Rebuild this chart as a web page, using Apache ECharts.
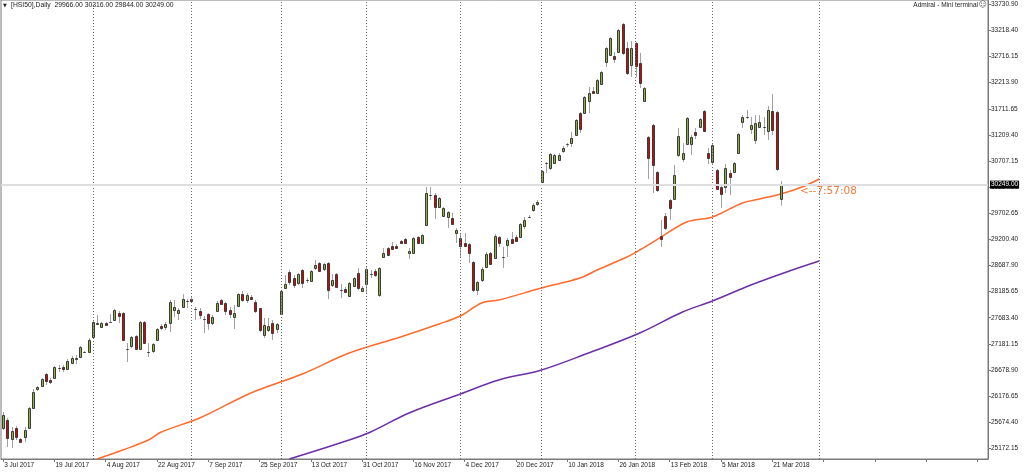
<!DOCTYPE html>
<html><head><meta charset="utf-8">
<script src="https://cdn.jsdelivr.net/npm/echarts@6/dist/echarts.min.js"></script>
<style>html,body{margin:0;padding:0;background:#fff}#c{width:1024px;height:472px}</style>
</head><body><div id="c"></div>
<script>
// ---- data ----
const tickLabels = ['3 Jul 2017','19 Jul 2017','4 Aug 2017','22 Aug 2017','7 Sep 2017','25 Sep 2017','13 Oct 2017','31 Oct 2017','16 Nov 2017','4 Dec 2017','20 Dec 2017','10 Jan 2018','26 Jan 2018','13 Feb 2018','5 Mar 2018','21 Mar 2018'];
const barsPerLabel = 12;
const slotCount = 231;
const openP = [25558,25712,25345,25558,25345,25384,25558,25943,26309,26367,
26598,26483,26521,26720,26733,26694,26810,26887,26926,27030,
27022,27312,27581,27505,27581,27600,27639,27774,27774,27085,
27138,27331,27080,27601,27025,27042,27254,27524,27505,27581,
27832,27774,27890,28010,28044,27855,27813,27665,27755,27581,
27813,28025,27967,27832,27697,27909,28140,28025,28083,27986,
27870,27350,27447,27581,27466,27755,28256,28564,28449,28352,
28603,28415,28391,28641,28738,28622,28738,28314,28526,28220,
28237,28102,28294,28545,28198,28333,28530,28584,28121,28853,
29027,29066,29066,29162,29200,28930,28930,29239,29124,29470,
30055,30049,29817,29644,29625,29606,29316,29220,29124,29104,
28757,28218,28410,28661,28930,28834,29239,28860,29085,29200,
29239,29239,29451,29630,29760,29875,30299,30670,30569,30666,
30724,30897,31035,31051,31206,31629,31629,31861,32054,32015,
32189,32613,32748,32728,32806,33345,32882,32555,32979,32593,
31861,31167,31398,30492,29258,29644,29953,29972,30820,30743,
31032,31032,31264,31360,31668,30858,30685,30531,30203,30203,
30473,30492,30858,31456,31555,31321,31109,31360,31365,31283,
31668,31649,29966];
const closeP = [25808,25365,25500,25384,25288,25519,25943,26251,26348,26502,
26463,26444,26733,26710,26694,26848,26906,26906,27119,27020,
27254,27601,27562,27581,27543,27605,27832,27717,27254,27075,
27312,27080,27601,27196,27020,27177,27466,27485,27562,27986,
27890,27832,28044,28000,28006,27850,27736,27655,27581,27697,
27967,27947,27813,27755,27774,28140,28025,28121,28044,27813,
27447,27543,27524,27389,27562,28198,28333,28372,28314,28526,
28352,28405,28584,28699,28584,28718,28218,28410,28275,28215,
28179,28352,28449,28256,28256,28622,28520,28506,28641,28930,
28892,29008,29027,29124,29124,28969,29220,29124,29278,30087,
30045,29817,29991,29798,29721,29490,29374,29066,29066,28930,
28218,28372,28622,28911,28718,29258,29124,28850,29181,29124,
29162,29490,29567,29620,29856,29914,30511,30660,30839,30820,
30820,30955,31030,31148,31495,31321,31937,32015,32015,32266,
32420,32882,33075,32670,33230,32786,32400,32882,32536,32208,
32111,30763,30627,30145,29200,29413,29798,30435,31186,30858,
31533,31167,31206,31514,31283,30762,31013,30165,30068,30569,
30396,30666,31225,31553,31550,31398,31437,31456,31355,31687,
31302,30550,30249];
const lowP = [25519,25191,25172,25326,25268,25288,25538,25924,26270,26348,
26386,26405,26502,26637,26637,26675,26790,26790,26926,27003,
27003,27292,27543,27485,27524,27581,27620,27581,27234,26829,
27100,27061,27061,27177,26926,27003,27234,27447,27447,27408,
27697,27639,27870,27870,27986,27639,27659,27389,27447,27543,
27793,27928,27736,27678,27466,27890,27986,27967,28025,27774,
27408,27292,27408,27254,27389,27736,28237,28314,28256,28314,
28256,28352,28372,28603,28564,28584,28044,28275,28256,28063,
28160,28083,28275,28218,28179,28160,28449,28468,28083,28834,
28872,28989,29027,29104,29104,28815,28911,29124,29104,29451,
29953,29586,29798,29625,29413,29470,29124,28834,29046,28738,
28179,28121,28372,28641,28699,28815,29046,28641,28853,29104,
29143,29220,29393,29606,29721,29837,30299,30473,30531,30647,
30704,30858,30974,30974,31186,31244,31610,31629,31996,31996,
32169,32516,32728,32593,32786,32748,32362,32324,32324,32111,
31841,30357,30087,30106,29046,29374,29567,29953,30782,30685,
31013,30820,31128,31341,31264,30646,30647,30145,29798,30087,
30049,30473,30839,31341,31514,31225,31032,31341,31206,31109,
31206,30512,29844];
const highP = [25866,25750,25577,25596,25365,25577,25962,26309,26367,26521,
26617,26521,26752,26771,26771,26887,26945,26964,27138,27042,
27292,27620,27736,27601,27601,27755,27851,27813,27793,27196,
27331,27350,27620,27620,27196,27196,27485,27562,27601,28025,
28025,27870,28140,28044,28083,27890,27870,27716,27774,27736,
28006,28044,27986,27890,27928,28160,28198,28160,28121,28025,
27870,27678,27678,27639,27581,28218,28506,28603,28506,28545,
28622,28449,28603,28796,28757,28738,28757,28526,28545,28333,
28275,28372,28468,28641,28294,28661,28603,28622,28661,29027,
29046,29143,29104,29181,29220,29027,29239,29258,29297,30203,
30203,30087,30010,29817,29740,29702,29413,29316,29316,29124,
28776,28391,28661,28950,28950,29297,29258,29046,29220,29336,
29278,29509,29625,29663,29895,29953,30531,30685,30858,30839,
30858,30993,31051,31264,31514,31648,31957,32131,32131,32285,
32439,32902,33094,32806,33249,33364,32998,33018,32998,32786,
32131,31186,31418,30511,29567,29702,29972,30627,31341,31051,
31553,31206,31341,31533,31687,30955,31032,30550,30222,30646,
30531,30685,31244,31591,31687,31553,31591,31591,31553,31764,
31996,31668,30316];
// moving averages (bar index, price)
const maOrange = [[22,24960],[28,25133],[34,25326],[37,25480],[46,25750],[58,26232],[70,26598],[81,27003],[93,27312],[102,27562],[107,27716],[112,27967],[116,28025],[126,28256],[135,28449],[139,28603],[146,28854],[149,28989],[154,29239],[160,29529],[166,29625],[173,29895],[177,29972],[182,30068],[187,30203],[191,30358]];
const maPurple = [[67,24960],[81,25326],[86,25480],[95,25847],[107,26213],[116,26483],[126,26675],[137,27003],[149,27389],[159,27794],[166,28006],[175,28314],[184,28584],[191,28777]];
const monthStarts = [21,44,65,85,107,126,148,166,191];
const yTicks = [33730.90,33218.40,32716.15,32213.90,31711.65,31209.40,30707.15,30204.90,29702.65,29200.40,28687.90,28185.65,27683.40,27181.15,26678.90,26176.65,25674.40,25172.15];
const yMin = 24960, yMax = 33808;
const symbolName = '[HSI50],Daily';
const lastBar = {open:29966.00, high:30316.00, low:29844.00, close:30249.00};
const countdown = '<--7:57:08';

// ---- build ----
const slots = [];
for (let i = 0; i < slotCount; i++) {
  slots.push(i % barsPerLabel === 0 && tickLabels[i / barsPerLabel] ? tickLabels[i / barsPerLabel] : '');
}
const candles = openP.map((o, i) => [i, o, closeP[i], lowP[i], highP[i]]);
const FONT = 'Liberation Sans';

const chart = echarts.init(document.getElementById('c'), null, {renderer: 'canvas'});
chart.setOption({
  animation: false,
  backgroundColor: '#fff',
  grid: {left: 1, right: 36, top: 0, bottom: 13, show: true, borderColor: '#7a7a7a', borderWidth: 1, containLabel: false},
  xAxis: {
    type: 'category', data: slots, boundaryGap: true,
    axisLine: {show: true, lineStyle: {color: '#7a7a7a'}},
    axisTick: {show: true, alignWithLabel: true, interval: barsPerLabel - 1, length: 3, lineStyle: {color: '#7a7a7a'}},
    axisLabel: {interval: barsPerLabel - 1, align: 'left', fontFamily: FONT, fontSize: 6.5, color: '#222', margin: 3, padding: [0, 0, 0, 1]},
    splitLine: {show: false}
  },
  yAxis: {
    type: 'value', position: 'right', min: yMin, max: yMax,
    axisLine: {show: true, lineStyle: {color: '#7a7a7a'}},
    axisTick: {show: true, customValues: yTicks, length: 3, lineStyle: {color: '#7a7a7a'}},
    axisLabel: {customValues: yTicks, formatter: v => v.toFixed(2), fontFamily: FONT, fontSize: 6.5, color: '#222', margin: 3},
    splitLine: {show: false}
  },
  series: [
    {
      type: 'line', data: [], silent: true, z: 1,
      markLine: {
        silent: true, symbol: 'none', animation: false,
        data: monthStarts.map(i => ({xAxis: i})),
        lineStyle: {color: '#6a6a6a', width: 1, type: [1, 2]},
        label: {show: false}
      }
    },
    {
      type: 'line', data: [], silent: true, z: 1,
      markLine: {
        silent: true, symbol: 'none', animation: false,
        data: [{yAxis: lastBar.close}],
        lineStyle: {color: '#dedede', width: 2, type: 'solid'},
        label: {show: true, position: 'end', formatter: lastBar.close.toFixed(2), backgroundColor: '#000', color: '#fff', fontFamily: FONT, fontSize: 6.5, padding: [1, 1, 0, 1], distance: 2}
      }
    },
    {
      type: 'line', data: maOrange, showSymbol: false, smooth: 0.35, z: 3,
      lineStyle: {color: '#ff6a2b', width: 1.5}
    },
    {
      type: 'line', data: maPurple, showSymbol: false, smooth: 0.35, z: 3,
      lineStyle: {color: '#6b2fa6', width: 1.5}
    },
    {
      type: 'custom', data: candles, z: 4,
      encode: {x: 0, y: [1, 2, 3, 4]},
      renderItem: function (params, api) {
        const i = api.value(0), o = api.value(1), c = api.value(2), l = api.value(3), h = api.value(4);
        const pO = api.coord([i, o]), pC = api.coord([i, c]), pL = api.coord([i, l]), pH = api.coord([i, h]);
        const cx = Math.round(pO[0]);
        const top = Math.round(Math.min(pO[1], pC[1])) + 0.5;
        const bot = Math.round(Math.max(pO[1], pC[1])) + 0.5;
        const up = c >= o;
        return {type: 'group', children: [
          {type: 'line', shape: {x1: cx + 0.5, y1: pH[1], x2: cx + 0.5, y2: pL[1]}, style: {stroke: '#a0a0a0', lineWidth: 1}},
          {type: 'rect', shape: {x: cx - 0.5, y: top, width: 2, height: Math.max(bot - top, 0)}, style: {fill: up ? '#8cb43c' : '#e00000', stroke: '#3a3a3a', lineWidth: 1}}
        ]};
      }
    }
  ],
  graphic: [
    {type: 'text', left: 3, top: 3, style: {text: '▼', font: '5px "DejaVu Sans"', fill: '#222'}},
    {type: 'text', left: 11, top: 2, style: {text: symbolName + '  ' + [lastBar.open, lastBar.high, lastBar.low, lastBar.close].map(v => v.toFixed(2)).join(' '), font: '6.8px "' + FONT + '"', fill: '#222'}},
    {type: 'text', right: 46, top: 2, style: {text: 'Admiral - Mini terminal', font: '6.5px "' + FONT + '"', fill: '#222'}},
    {type: 'text', right: 37, top: 1, style: {text: '☺', font: '8px "DejaVu Sans"', fill: '#555'}},
    {type: 'text', left: 800, top: 186, style: {text: countdown, font: '10.5px "DejaVu Sans"', fill: '#f07a3c'}}
  ]
});
</script>
</body></html>
